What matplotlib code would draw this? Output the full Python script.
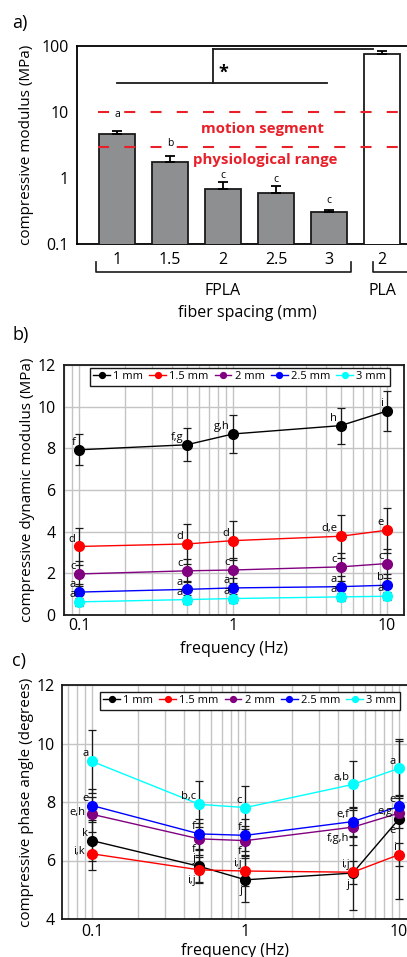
import numpy as np
import matplotlib
matplotlib.use('Agg')
import matplotlib.pyplot as plt
import matplotlib.transforms as mtransforms
from matplotlib.ticker import FixedLocator, FixedFormatter, NullFormatter, LogLocator

plt.rcParams['font.family'] = ['Open Sans', 'DejaVu Sans']

# ---- data: panel a (compressive modulus, MPa)
spacing_labels = ['1', '1.5', '2', '2.5', '3', '2']
modulus = [4.6, 1.74, 0.68, 0.59, 0.305, 75]
modulus_err = [0.6, 0.41, 0.19, 0.16, 0.025, 8]
modulus_letters = ['a', 'b', 'c', 'c', 'c', '']

# ---- data: panels b, c
freqs = [0.1, 0.5, 1, 5, 10]
series_names = ['1 mm', '1.5 mm', '2 mm', '2.5 mm', '3 mm']
series_colors = ['black', 'red', 'purple', 'blue', 'cyan']

dyn_1mm = [7.93, 8.17, 8.69, 9.09, 9.79]
dyn_1_5mm = [3.29, 3.41, 3.57, 3.78, 4.07]
dyn_2mm = [1.97, 2.12, 2.16, 2.31, 2.47]
dyn_2_5mm = [1.10, 1.23, 1.30, 1.36, 1.43]
dyn_3mm = [0.63, 0.74, 0.79, 0.87, 0.90]
dyn_err_1mm = [0.75, 0.8, 0.9, 0.87, 0.97]
dyn_err_1_5mm = [0.9, 0.95, 0.93, 1.03, 1.07]
dyn_err_2mm = [0.6, 0.55, 0.6, 0.69, 0.7]
dyn_err_2_5mm = [0.37, 0.4, 0.46, 0.5, 0.53]
dyn_err_3mm = [0.2, 0.2, 0.2, 0.2, 0.2]
dyn_letters = [['f', 'f,g', 'g,h', 'h', 'i'],
               ['d', 'd', 'd', 'd,e', 'e'],
               ['c', 'c', 'c', 'c', 'c'],
               ['a', 'a', 'a', 'a', 'b'],
               ['a', 'a', 'a', 'a', 'a']]

ph_1mm = [6.68, 5.80, 5.34, 5.57, 7.42]
ph_1_5mm = [6.23, 5.68, 5.64, 5.60, 6.20]
ph_2mm = [7.58, 6.74, 6.68, 7.14, 7.62]
ph_2_5mm = [7.88, 6.91, 6.86, 7.33, 7.85]
ph_3mm = [9.39, 7.92, 7.81, 8.60, 9.15]
ph_err_1mm = [0.7, 0.55, 0.75, 1.25, 2.75]
ph_err_1_5mm = [0.55, 0.45, 0.5, 0.4, 0.4]
ph_err_2mm = [0.6, 0.55, 0.5, 0.6, 0.5]
ph_err_2_5mm = [0.55, 0.5, 0.55, 0.5, 0.4]
ph_err_3mm = [1.07, 0.79, 0.73, 0.8, 0.95]
ph_letters = [['k', 'j', 'j', 'j', 'e'],
              ['i,k', 'i,j', 'i,j', 'i,j', 'i'],
              ['e,h', 'f', 'f', 'f,g,h', 'e,g'],
              ['e', 'f', 'f', 'e,f', 'e'],
              ['a', 'b,c', 'c', 'a,b', 'a']]
# where each letter sits relative to its point: ul = upper left, ll = lower left, l = left
ph_where = [['ul', 'ul', 'll', 'll', 'll'],
            ['l', 'll', 'ul', 'ul', 'ul'],
            ['l', 'll', 'll', 'll', 'l'],
            ['ul', 'ul', 'ul', 'ul', 'ul'],
            ['ul', 'ul', 'ul', 'ul', 'ul']]

dyn = [dyn_1mm, dyn_1_5mm, dyn_2mm, dyn_2_5mm, dyn_3mm]
dyn_err = [dyn_err_1mm, dyn_err_1_5mm, dyn_err_2mm, dyn_err_2_5mm, dyn_err_3mm]
ph = [ph_1mm, ph_1_5mm, ph_2mm, ph_2_5mm, ph_3mm]
ph_err = [ph_err_1mm, ph_err_1_5mm, ph_err_2mm, ph_err_2_5mm, ph_err_3mm]

W, H = 407, 957
fig = plt.figure(figsize=(W / 100, H / 100), dpi=100)


def px_axes(l, t, r, b):
    return fig.add_axes([l / W, 1 - b / H, (r - l) / W, (b - t) / H])


TICK = 11.5
LAB = 11.5
YLAB = 11.0
RED = '#e8202a'

# ================= panel a
ax = px_axes(77, 46, 407, 244)
x = np.arange(len(modulus))
ax.bar(x[:5], modulus[:5], width=0.68, color='#8d8f91', edgecolor='#1a1a1a', lw=1.3,
       yerr=[[0] * 5, modulus_err[:5]], capsize=3.5, error_kw=dict(elinewidth=1.3, capthick=1.3),
       zorder=3)
ax.bar(x[5], modulus[5], width=0.68, color='white', edgecolor='#1a1a1a', lw=1.3,
       yerr=[[0], [modulus_err[5]]], capsize=3.5, error_kw=dict(elinewidth=1.3, capthick=1.3),
       zorder=3)
ax.set_yscale('log')
ax.set_ylim(0.1, 100)
ax.set_xlim(-0.755, 5.47)
ax.set_yticks([0.1, 1, 10, 100])
ax.set_yticklabels(['0.1', '1', '10', '100'])
ax.yaxis.set_minor_locator(FixedLocator([]))
ax.set_xticks(x)
ax.set_xticklabels(spacing_labels)
ax.tick_params(length=0, labelsize=TICK, pad=6)
ax.spines['right'].set_visible(False)
for s in ['left', 'top', 'bottom']:
    ax.spines[s].set_linewidth(1.3)
ax.set_ylabel('compressive modulus (MPa)', fontsize=YLAB)
ax.yaxis.set_label_coords(-0.13, 0.5)

letter_off = [8, 5, 1, 1, 3]
for i in range(5):
    ax.annotate(modulus_letters[i], (x[i], modulus[i] + modulus_err[i]), xytext=(0, letter_off[i]),
                textcoords='offset points', ha='center', va='bottom', fontsize=7.5)

# physiological range
for yv in [10, 3]:
    ax.plot([-0.36, 5.6], [yv, yv], color=RED, lw=1.5, linestyle=(0, (5.3, 7.3)), zorder=4)
ax.text(2.75, 5.5, 'motion segment', color=RED, fontsize=10.8, fontweight='bold',
        ha='center', va='center', zorder=5)
ax.text(2.8, 1.85, 'physiological range', color=RED, fontsize=10.8, fontweight='bold',
        ha='center', va='center', zorder=5)

# significance bracket
ax.plot([0.0, 3.96], [27.5, 27.5], color='#1a1a1a', lw=1.3)
ax.plot([1.81, 1.81], [27.5, 90], color='#1a1a1a', lw=1.3)
ax.plot([1.81, 4.83], [90, 90], color='#1a1a1a', lw=1.3)
ax.text(2.0, 40, '*', fontsize=13, fontweight='bold', ha='center', va='center')

# group brackets under the axis
trans = mtransforms.blended_transform_factory(ax.transData, ax.transAxes)
for x0, x1 in [(-0.4, 4.42), (4.83, 5.52)]:
    ax.plot([x0, x0, x1, x1], [-0.091, -0.141, -0.141, -0.091], color='#1a1a1a', lw=1.2,
            transform=trans, clip_on=False)
ax.text(2.0, -0.237, 'FPLA', transform=trans, ha='center', va='center', fontsize=LAB)
ax.text(5.0, -0.237, 'PLA', transform=trans, ha='center', va='center', fontsize=LAB)
ax.text(2.45, -0.348, 'fiber spacing (mm)', transform=trans, ha='center', va='center', fontsize=LAB)
fig.text(12 / W, 1 - 23 / H, 'a)', fontsize=13, va='center')


# ================= panels b and c
def freq_panel(ax, means, errs, letters, where, xlim, ylim, yticks, leg_anchor):
    for m, e in zip(means, errs):
        ax.errorbar(freqs, m, yerr=e, fmt='none', ecolor='#1a1a1a', elinewidth=0.9,
                    capsize=3, capthick=0.9, zorder=3)
    handles = []
    for m, c, n in zip(means, series_colors, series_names):
        h, = ax.plot(freqs, m, '-o', color=c, lw=1.0, ms=7, label=n, zorder=4)
        handles.append(h)
    for m, labs, wh in zip(means, letters, where):
        for xf, yv, lab, w in zip(freqs, m, labs, wh):
            if w == 'ul':
                off, va = (-2.5, 3.5), 'baseline'
            elif w == 'll':
                off, va = (-2.5, -4), 'top'
            else:
                off, va = (-5, 1.5), 'center'
            ax.annotate(lab, (xf, yv), xytext=off, textcoords='offset points',
                        ha='right', va=va, fontsize=8, zorder=5)
    ax.set_xscale('log')
    ax.set_xlim(*xlim)
    ax.set_ylim(*ylim)
    ax.set_yticks(yticks)
    ax.xaxis.set_major_locator(FixedLocator([0.1, 1, 10]))
    ax.xaxis.set_major_formatter(FixedFormatter(['0.1', '1', '10']))
    ax.xaxis.set_minor_locator(LogLocator(base=10, subs=np.arange(2, 10)))
    ax.xaxis.set_minor_formatter(NullFormatter())
    ax.grid(True, which='both', axis='x', color='#c4c4c4', lw=1.0, zorder=0)
    ax.grid(True, which='major', axis='y', color='#c4c4c4', lw=1.0, zorder=0)
    ax.set_axisbelow(True)
    ax.tick_params(which='both', length=0, labelsize=TICK)
    for s in ax.spines.values():
        s.set_linewidth(1.3)
        s.set_color('#1a1a1a')
    leg = ax.legend(handles=handles, loc='upper left', bbox_to_anchor=leg_anchor, ncol=5,
                    fontsize=8, markerscale=0.6, handlelength=1.5, handletextpad=0.3,
                    columnspacing=0.55, borderpad=0.3, borderaxespad=0, fancybox=False,
                    framealpha=1, edgecolor='#1a1a1a')
    leg.get_frame().set_linewidth(1.0)
    return ax


axb = px_axes(64, 365, 404, 615)
freq_panel(axb, dyn, dyn_err, dyn_letters, [['ul'] * 5] * 5, (0.0799, 12.9), (0, 12),
           [0, 2, 4, 6, 8, 10, 12], (0.076, 0.988))
axb.tick_params(axis='x', pad=2)
axb.tick_params(axis='y', pad=6)
axb.set_xlabel('frequency (Hz)', fontsize=LAB)
axb.xaxis.set_label_coords(0.5, -0.104)
axb.set_ylabel('compressive dynamic modulus (MPa)', fontsize=YLAB)
axb.yaxis.set_label_coords(-0.085, 0.5)
fig.text(12 / W, 1 - 335 / H, 'b)', fontsize=13, va='center')

axc = px_axes(62, 685, 419, 919)
freq_panel(axc, ph, ph_err, ph_letters, ph_where, (0.0638, 13.5), (4, 12),
           [4, 6, 8, 10, 12], (0.106, 0.97))
axc.tick_params(axis='x', pad=3.5)
axc.tick_params(axis='y', pad=5)
axc.set_xlabel('frequency (Hz)', fontsize=LAB)
axc.xaxis.set_label_coords(0.485, -0.102)
axc.set_ylabel('compressive phase angle (degrees)', fontsize=YLAB)
axc.yaxis.set_label_coords(-0.078, 0.5)
fig.text(12 / W, 1 - 661 / H, 'c)', fontsize=13, va='center')

fig.savefig('out.png', dpi=100)
